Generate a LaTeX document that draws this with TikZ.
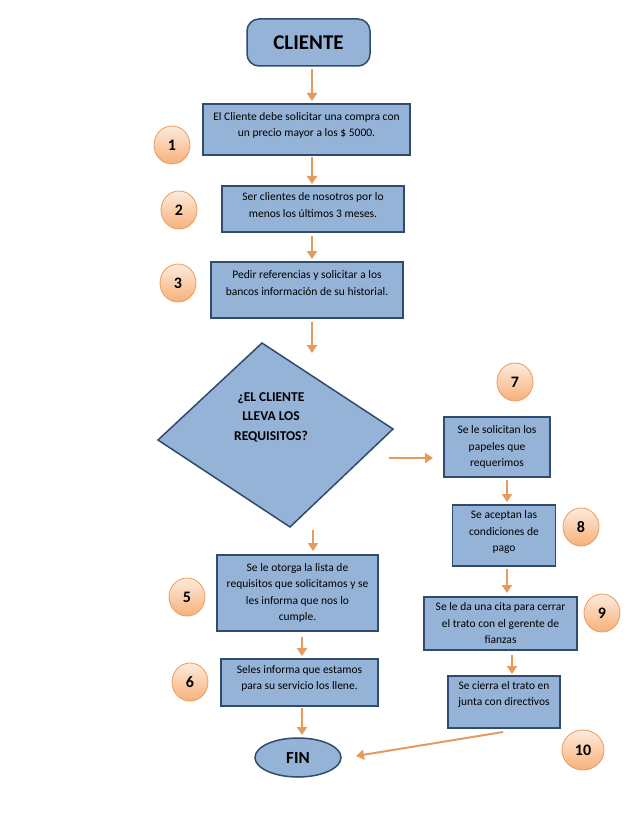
\documentclass[tikz,border=0pt]{standalone}
\usepackage{fontspec}
\setmainfont{Carlito}
\usetikzlibrary{arrows.meta,shapes.geometric}
\definecolor{boxfill}{HTML}{95B3D7}
\definecolor{boxline}{HTML}{2F4B6E}
\definecolor{arr}{HTML}{E59B5E}
\definecolor{circtop}{HTML}{FDEBDC}
\definecolor{circbot}{HTML}{F7B07A}
\definecolor{circline}{HTML}{EC9A5A}
\tikzset{
  box/.style={draw=boxline, fill=boxfill, line width=1.5pt, inner sep=0pt, align=center,
    font=\fontsize{11.5}{16.5}\selectfont},
  badge/.style={ellipse, draw=circline, line width=0.8pt, top color=circtop, bottom color=circbot,
    minimum width=36pt, minimum height=38pt, inner sep=0pt, font=\fontsize{16}{16}\selectfont\bfseries},
  flow/.style={draw=arr, line width=2pt, -{Triangle[width=10pt,length=8pt]}},
}
\begin{document}
\begin{tikzpicture}[x=1pt,y=-1pt]
\useasboundingbox (0,0) rectangle (638,826);
% start
\node[box, rounded corners=12pt, minimum width=123pt, minimum height=47pt, font=\fontsize{21}{21}\selectfont\bfseries] (cli) at (308.5,42.5) {CLIENTE};
% left column boxes
\node[box, minimum width=207pt, minimum height=51pt, text depth=10pt] (b1) at (306.5,129.5) {El Cliente debe solicitar una compra con\\un precio mayor a los \$ 5000.};
\node[box, minimum width=182pt, minimum height=46pt, text depth=8pt] (b2) at (313,209) {Ser clientes de nosotros por lo\\menos los últimos 3 meses.};
\node[box, minimum width=192pt, minimum height=56pt, text depth=14pt] (b3) at (307,290) {Pedir referencias y solicitar a los\\bancos información de su historial.};
% decision
\coordinate (dt) at (262,343);
\coordinate (dr) at (393,429);
\coordinate (db) at (290,527);
\coordinate (dl) at (158,440);
\draw[draw=boxline, fill=boxfill, line width=1.5pt, line join=miter] (dt) -- (dr) -- (db) -- (dl) -- cycle;
\node[align=center, font=\fontsize{13.5}{19.5}\selectfont\bfseries] (dec) at (271,417) {¿EL CLIENTE\\LLEVA LOS\\REQUISITOS?};
\coordinate (decR) at (389,458);
\coordinate (decRe) at (433,458);
\coordinate (decB) at (313,530);
% lower-left
\node[box, minimum width=161pt, minimum height=76pt] (b5) at (297.5,593) {Se le otorga la lista de\\requisitos que solicitamos y se\\les informa que nos lo\\cumple.};
\node[box, minimum width=157pt, minimum height=47pt, text depth=10pt] (b6) at (299.5,682.5) {Seles informa que estamos\\para su servicio los llene.};
\node[box, ellipse, minimum width=86pt, minimum height=39pt, font=\fontsize{17}{17}\selectfont\bfseries] (fin) at (298,757.5) {FIN};
% right column
\node[box, minimum width=106pt, minimum height=60pt] (b7) at (497,447) {Se le solicitan los\\papeles que\\requerimos};
\node[box, minimum width=103pt, minimum height=61pt, text depth=8pt] (b8) at (504,535.5) {Se aceptan las\\condiciones de\\pago};
\node[box, minimum width=153pt, minimum height=53pt] (b9) at (500.5,623.5) {Se le da una cita para cerrar\\el trato con el gerente de\\fianzas};
\node[box, minimum width=112pt, minimum height=52pt, text depth=17pt] (b10) at (504,702) {Se cierra el trato en\\junta con directivos};
% badges
\node[badge] (n1) at (172,145) {1};
\node[badge] (n2) at (179,210) {2};
\node[badge] (n3) at (178,283) {3};
\node[badge] (n5) at (187,597) {5};
\node[badge] (n6) at (190,682) {6};
\node[badge] (n7) at (515,382) {7};
\node[badge] (n8) at (581,527) {8};
\node[badge] (n9) at (602,613) {9};
\node[badge, minimum width=42pt, minimum height=40pt] (n10) at (583,750) {10};
% arrows
\draw[flow] (312,69) -- (312,101);
\draw[flow] (312,157) -- (312,184);
\draw[flow] (312,236) -- (312,259);
\draw[flow] (312,322) -- (312,353);
\draw[flow] (decR) -- (decRe);
\draw[flow] (decB) -- (313,551);
\draw[flow] (302,637) -- (302,656);
\draw[flow] (302,708) -- (302,735);
\draw[flow] (507,480) -- (507,502);
\draw[flow] (507,569) -- (507,593);
\draw[flow] (512,655) -- (512,674);
\coordinate (r10) at (503,732);
\coordinate (finR) at (356,756);
\draw[flow] (r10) -- (finR);
\end{tikzpicture}
\end{document}
